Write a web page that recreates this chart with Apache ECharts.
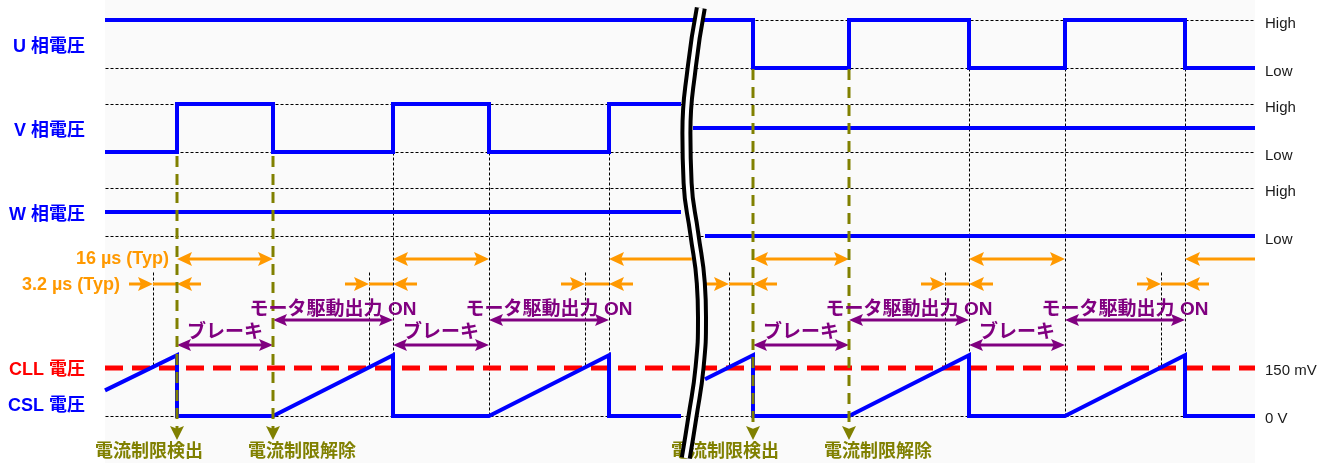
<!DOCTYPE html>
<html>
<head>
<meta charset="utf-8">
<title>電流制限タイミング</title>
<script src="https://cdn.jsdelivr.net/npm/echarts@6/dist/echarts.min.js"></script>
<style>
  html, body { margin: 0; padding: 0; background: #fff; }
  #chart { width: 1337px; height: 463px; }
</style>
</head>
<body>
<div id="chart"></div>
<script>
// ---- data: time in µs along a broken time axis (0 = left edge of the plot) ----
const tEnd = 1150 / 6;
const leftEnd = 96;        // left-hand traces stop before the break
const leftArrowEnd = 97.8; // 16 µs arrow runs into the break
const vResume = 98;        // V resumes after the break
const rightStart = 100;    // W and CSL resume after the break

const uStartLevel = 1;
const uEdges = [108, 124, 144, 160, 180];
const vStartLevel = 0;
const vEdges = [12, 28, 48, 64, 84];
const vRightLevel = 0.5;
const wLeftLevel = 0.5;
const wRightLevel = 0;

const detectTimes = [12, 48, 84, 108, 144, 180];   // CSL reset, brake starts
const releaseTimes = [28, 64, 124, 160];           // brake ends, drive ON
const crossTimes = [8, 44, 80, 104, 140, 176];     // CSL crosses CLL
const limitMarks = [[12, 28], [108, 124]];         // labelled detect / release

const cllMv = 150;
const cslPeakMv = 190;
const cslStartMv = [80, 115];   // at left edge / after the break

const signalNames = ['U 相電圧', 'V 相電圧', 'W 相電圧'];
const levelNames = ['Low', 'High'];
const cllName = 'CLL 電圧';
const cslName = 'CSL 電圧';
const mvTicks = [0, 150];
const mvTickNames = ['0 V', '150 mV'];
const brakeText = 'ブレーキ';
const driveText = 'モータ駆動出力 ON';
const detectText = '電流制限検出';
const releaseText = '電流制限解除';
const brakeTimeText = '16 µs (Typ)';
const delayTimeText = '3.2 µs (Typ)';

// break symbol path: [time, row px]
const breakMark = [[99.3, 8], [97.8, 67], [96.9, 133], [97.1, 183], [98.2, 233],
  [99.3, 283], [99.5, 317], [99.1, 367], [97.9, 417], [96.8, 458]];

// ---- layout ----
const H = 463;
const rows = { uHigh: 20, uLow: 68, vHigh: 104, vLow: 152, wHigh: 188, wLow: 236, cll: 368, zero: 416 };
const ann = { t16: 259, t32: 284, drive: 320, driveText: 310, brake: 345, brakeText: 333,
  markTopL: 156, markTopR: 69, markEnd: 440, markText: 452, crossTop: 272 };
const leftNudge = 3, rightNudge = 4, mvNudge = 2.5, cslLabelPx = 406;   // px downward shift of axis labels
const FONT = "'Liberation Sans', 'Noto Sans CJK JP', sans-serif";
const BLUE = '#0000ff', RED = '#ff0000', ORANGE = '#ff9900', PURPLE = '#800080', OLIVE = '#808000';

// y axis whose value v1 sits at px1 and v0 at px0 (grid spans full height)
function scaleAxis(v1, px1, v0, px0) {
  const k = (px0 - px1) / (v1 - v0);
  return { min: v0 - (H - px0) / k, max: v1 + px1 / k, k };
}

const hidden = { axisLine: { show: false, onZero: false }, axisTick: { show: false }, splitLine: { show: false } };
const leftLabel = { margin: 20, fontSize: 18, fontWeight: 'bold', fontFamily: FONT };
const rightLabel = { margin: 10, fontSize: 15, color: '#1a1a1a', fontFamily: FONT };

const logicRows = [[rows.uHigh, rows.uLow], [rows.vHigh, rows.vLow], [rows.wHigh, rows.wLow]];
const yAxes = [{ type: 'value', min: 0, max: H, inverse: true, show: false }];
logicRows.forEach((r, i) => {
  const s = scaleAxis(1, r[0], 0, r[1]);
  yAxes.push(Object.assign({ type: 'value', position: 'left', min: s.min, max: s.max }, hidden, {
    axisLabel: Object.assign({ customValues: [0.5 - leftNudge / s.k], formatter: () => signalNames[i], color: BLUE }, leftLabel)
  }));
});
const mv = scaleAxis(cllMv, rows.cll, 0, rows.zero);
const cslLabelMv = (rows.zero - cslLabelPx) / mv.k;
yAxes.push(Object.assign({ type: 'value', position: 'left', min: mv.min, max: mv.max }, hidden, {
  axisLabel: Object.assign({
    customValues: [cllMv - mvNudge / mv.k, cslLabelMv],
    formatter: v => (v > cllMv / 2 ? cllName : cslName),
    color: v => (v > cllMv / 2 ? RED : BLUE)
  }, leftLabel)
}));
logicRows.forEach(r => {
  const s = scaleAxis(1, r[0], 0, r[1]);
  yAxes.push(Object.assign({ type: 'value', position: 'right', min: s.min, max: s.max }, hidden, {
    axisLabel: Object.assign({
      customValues: [0, 1].map(v => v - rightNudge / s.k),
      formatter: v => levelNames[Math.round(v)]
    }, rightLabel)
  }));
});
yAxes.push(Object.assign({ type: 'value', position: 'right', min: mv.min, max: mv.max }, hidden, {
  axisLabel: Object.assign({
    customValues: mvTicks.map(v => v - mvNudge / mv.k),
    formatter: v => mvTickNames[Math.round(v / cllMv)]
  }, rightLabel)
}));

// ---- trace builders ----
function stepPoints(t0, t1, level, edges) {
  const pts = [[t0, level]];
  edges.filter(e => e > t0 && e < t1).forEach(e => {
    pts.push([e, level]);
    level = 1 - level;
    pts.push([e, level]);
  });
  pts.push([t1, level]);
  return pts;
}
function sawPoints(t0, t1, startMv) {
  const pts = [[t0, startMv]];
  detectTimes.filter(d => d > t0 && d < t1).forEach(d => {
    pts.push([d, cslPeakMv], [d, 0]);
    const r = releaseTimes.find(x => x > d && x < t1);
    if (r !== undefined) pts.push([r, 0]);
  });
  pts.push([t1, 0]);
  return pts;
}
function trace(data, yIdx, extra) {
  return Object.assign({
    type: 'line', xAxisIndex: 0, yAxisIndex: yIdx, data, symbol: 'none', silent: true, z: 5,
    lineStyle: { color: BLUE, width: 4, join: 'miter', cap: 'butt' }
  }, extra || {});
}

// ---- segments / arrows drawn through the axes ----
function segSeries(segs, st, z) {
  return {
    type: 'custom', xAxisIndex: 0, yAxisIndex: 0, z, silent: true, clip: false,
    data: segs, encode: { x: [0, 2], y: [1, 3] },
    renderItem: (params, api) => {
      let a = api.coord([api.value(0), api.value(1)]);
      let b = api.coord([api.value(2), api.value(3)]);
      if (st.crisp) {
        a = a.map(v => Math.round(v) + 0.5);
        b = b.map(v => Math.round(v) + 0.5);
      }
      const hFrom = api.value(4), hTo = api.value(5);
      const dx = b[0] - a[0], dy = b[1] - a[1], len = Math.hypot(dx, dy) || 1;
      const ux = dx / len, uy = dy / len;
      const L = st.head || 0, W = st.headW || 0;
      const s = hFrom ? [a[0] + ux * L * 0.7, a[1] + uy * L * 0.7] : a;
      const e = hTo ? [b[0] - ux * L * 0.7, b[1] - uy * L * 0.7] : b;
      const children = [{
        type: 'line', shape: { x1: s[0], y1: s[1], x2: e[0], y2: e[1] },
        style: { stroke: st.color, lineWidth: st.width, lineDash: st.dash || null, fill: null }
      }];
      const head = (tip, px, py) => {
        const bx = tip[0] - px * L, by = tip[1] - py * L;
        const nx = -py, ny = px;
        return {
          type: 'polygon',
          shape: { points: [tip, [bx + nx * W, by + ny * W], [tip[0] - px * L * 0.8, tip[1] - py * L * 0.8], [bx - nx * W, by - ny * W]] },
          style: { fill: st.color }
        };
      };
      if (hFrom) children.push(head(a, -ux, -uy));
      if (hTo) children.push(head(b, ux, uy));
      return { type: 'group', children };
    }
  };
}
function textSeries(items, z) {
  return {
    type: 'custom', xAxisIndex: 0, yAxisIndex: 0, z, silent: true, clip: false,
    data: items.map(it => [it.t, it.y]), encode: { x: 0, y: 1 },
    renderItem: (params, api) => {
      const it = items[params.dataIndex];
      const p = api.coord([api.value(0), api.value(1)]);
      return {
        type: 'text', x: p[0] + (it.dx || 0), y: p[1],
        style: { text: it.text, fill: it.color, font: it.font, align: it.align || 'center', verticalAlign: 'middle' }
      };
    }
  };
}

// grid lines
const hRows = [rows.uHigh, rows.uLow, rows.vHigh, rows.vLow, rows.wHigh, rows.wLow, rows.zero];
const gridSegs = hRows.map(y => [0, y, tEnd, y, 0, 0]);
const marked = limitMarks.flat();
detectTimes.concat(releaseTimes).filter(t => marked.indexOf(t) < 0).forEach(t => {
  gridSegs.push([t, t < leftEnd ? rows.vLow : rows.uLow, t, rows.zero, 0, 0]);
});
crossTimes.forEach(c => gridSegs.push([c, ann.crossTop, c, rows.cll, 0, 0]));

// orange timing arrows
const orangeSegs = [];
detectTimes.forEach((d, i) => {
  const sideEnd = d < leftEnd ? leftArrowEnd : tEnd;
  const r = releaseTimes.find(x => x > d && x < sideEnd);
  orangeSegs.push([d, ann.t16, r !== undefined ? r : sideEnd, ann.t16, 1, r !== undefined ? 1 : 0]);
  const c = crossTimes[i];
  orangeSegs.push([c - 4, ann.t32, c, ann.t32, 0, 1]);
  orangeSegs.push([c, ann.t32, d, ann.t32, 0, 0]);
  orangeSegs.push([d + 4, ann.t32, d, ann.t32, 0, 1]);
});

// purple brake / drive arrows and their texts
const purpleSegs = [];
const texts = [];
const PFONT = 'bold 19px ' + FONT;
const OFONT = 'bold 18px ' + FONT;
detectTimes.forEach(d => {
  const r = releaseTimes.find(x => x > d && (d < leftEnd ? x < leftEnd : true));
  if (r === undefined) return;
  purpleSegs.push([d, ann.brake, r, ann.brake, 1, 1]);
  texts.push({ t: (d + r) / 2, y: ann.brakeText, text: brakeText, color: PURPLE, font: PFONT });
  const n = detectTimes.find(x => x > r);
  purpleSegs.push([r, ann.drive, n, ann.drive, 1, 1]);
  texts.push({ t: (r + n) / 2, y: ann.driveText, text: driveText, color: PURPLE, font: PFONT });
});

// olive current-limit markers
const oliveSegs = [];
limitMarks.forEach(([d, r]) => {
  const top = d < leftEnd ? ann.markTopL : ann.markTopR;
  oliveSegs.push([d, top, d, ann.markEnd, 0, 1]);
  oliveSegs.push([r, top, r, ann.markEnd, 0, 1]);
  texts.push({ t: d, y: ann.markText, dx: -28, text: detectText, color: OLIVE, font: OFONT });
  texts.push({ t: r, y: ann.markText, dx: 29, text: releaseText, color: OLIVE, font: OFONT });
});
texts.push({ t: detectTimes[0], y: ann.t16, dx: -8, align: 'right', text: brakeTimeText, color: ORANGE, font: OFONT });
texts.push({ t: crossTimes[0] - 4, y: ann.t32 + 1, dx: -9, align: 'right', text: delayTimeText, color: ORANGE, font: OFONT });

const option = {
  animation: false,
  backgroundColor: '#ffffff',
  grid: { left: 105, right: 82, top: 0, bottom: 0, show: true, backgroundColor: '#fafafa', borderWidth: 0 },
  xAxis: { type: 'value', min: 0, max: tEnd, show: false },
  yAxis: yAxes,
  series: [
    segSeries(gridSegs, { color: '#000', width: 1, dash: [3, 2], crisp: true }, 1),
    trace([[0, cllMv], [tEnd, cllMv]], 4, { z: 3, lineStyle: { color: RED, width: 5, type: [18, 9] } }),
    trace(stepPoints(0, tEnd, uStartLevel, uEdges), 1),
    trace(stepPoints(0, leftEnd, vStartLevel, vEdges), 2),
    trace([[vResume, vRightLevel], [tEnd, vRightLevel]], 2),
    trace([[0, wLeftLevel], [leftEnd, wLeftLevel]], 3),
    trace([[rightStart, wRightLevel], [tEnd, wRightLevel]], 3),
    trace(sawPoints(0, leftEnd, cslStartMv[0]), 4),
    trace(sawPoints(rightStart, tEnd, cslStartMv[1]), 4),
    segSeries(orangeSegs, { color: ORANGE, width: 3, head: 15, headW: 7 }, 6),
    segSeries(purpleSegs, { color: PURPLE, width: 3, head: 14, headW: 6 }, 6),
    segSeries(oliveSegs, { color: OLIVE, width: 3, head: 14, headW: 7, dash: [11, 7] }, 7),
    textSeries(texts, 8),
    trace(breakMark, 0, { z: 9, smooth: 0.5, lineStyle: { color: '#000', width: 12 } }),
    trace(breakMark, 0, { z: 10, smooth: 0.5, lineStyle: { color: '#fff', width: 4 } })
  ]
};

const chart = echarts.init(document.getElementById('chart'));
chart.setOption(option);
window.addEventListener('resize', () => chart.resize());
</script>
</body>
</html>
